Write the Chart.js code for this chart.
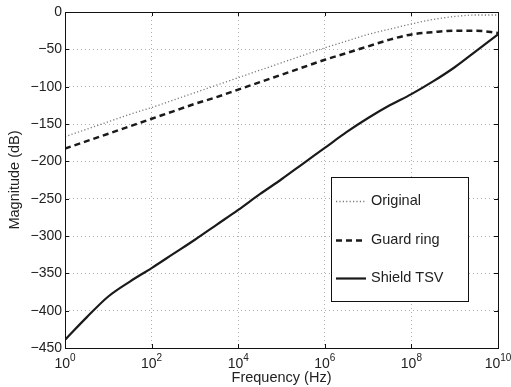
<!DOCTYPE html>
<html>
<head>
<meta charset="utf-8">
<script src="https://cdn.jsdelivr.net/npm/chart.js@4"></script>
<style>
  html, body { margin: 0; padding: 0; background: #fff; }
  #wrap { width: 511px; height: 387px; }
</style>
</head>
<body>
<div id="wrap"><canvas id="magnitude-chart" width="511" height="387"></canvas></div>
<script>
// frequency points, half a decade apart
var freqHz = [1e0, 3.16e0, 1e1, 3.16e1, 1e2, 3.16e2, 1e3, 3.16e3, 1e4, 3.16e4, 1e5,
  3.16e5, 1e6, 3.16e6, 1e7, 3.16e7, 1e8, 3.16e8, 1e9, 3.16e9, 1e10];
var original = [-167, -157, -147, -137, -128, -118, -108, -98, -88, -78, -68,
  -58, -48, -39, -30, -23, -16, -10, -6, -4, -4];
var guardRing = [-183, -173, -163, -153, -143, -133, -123, -114, -104, -94, -84,
  -74, -64, -55, -46, -37, -30, -27, -25, -25, -28];
var shieldTsv = [-439, -409, -381, -361, -343, -324, -305, -285, -265, -244, -224,
  -203, -182, -161, -142, -125, -110, -93, -74, -52, -30];
var xTickExp = [0, 2, 4, 6, 8, 10];
var yTicks = [0, -50, -100, -150, -200, -250, -300, -350, -400, -450];

var FONT = "'Liberation Sans', Arial, Helvetica, sans-serif";
Chart.defaults.font.family = FONT;
Chart.defaults.font.size = 14;
Chart.defaults.color = '#222';

function pts(arr) {
  return freqHz.map(function (f, i) { return { x: f, y: arr[i] }; });
}

// frame, inward ticks, x labels as 10^n and the boxed legend
var matlabLook = {
  id: 'matlabLook',
  afterDraw: function (chart) {
    var ctx = chart.ctx;
    var a = chart.chartArea;
    var xs = chart.scales.x, ys = chart.scales.y;
    ctx.save();
    ctx.strokeStyle = '#111';
    ctx.lineWidth = 1;
    ctx.setLineDash([]);
    ctx.strokeRect(a.left + 0.5, a.top + 0.5, a.right - a.left, a.bottom - a.top);
    ctx.beginPath();
    xTickExp.forEach(function (e) {
      var px = Math.round(xs.getPixelForValue(Math.pow(10, e))) + 0.5;
      ctx.moveTo(px, a.bottom); ctx.lineTo(px, a.bottom - 4);
      ctx.moveTo(px, a.top); ctx.lineTo(px, a.top + 4);
    });
    yTicks.forEach(function (v) {
      var py = Math.round(ys.getPixelForValue(v)) + 0.5;
      ctx.moveTo(a.left, py); ctx.lineTo(a.left + 4, py);
      ctx.moveTo(a.right, py); ctx.lineTo(a.right - 4, py);
    });
    ctx.stroke();

    // x tick labels
    ctx.fillStyle = '#222';
    ctx.textBaseline = 'alphabetic';
    xTickExp.forEach(function (e) {
      var px = xs.getPixelForValue(Math.pow(10, e));
      ctx.font = '14px ' + FONT;
      var wb = ctx.measureText('10').width;
      ctx.font = '10px ' + FONT;
      var we = ctx.measureText(String(e)).width;
      var x0 = px - (wb + we) / 2;
      ctx.font = '14px ' + FONT;
      ctx.textAlign = 'left';
      ctx.fillText('10', x0, a.bottom + 20);
      ctx.font = '10px ' + FONT;
      ctx.fillText(String(e), x0 + wb, a.bottom + 13);
    });

    // legend
    var lx = 331, ly = 177, lw = 137, lh = 124;
    ctx.fillStyle = '#fff';
    ctx.fillRect(lx, ly, lw, lh);
    ctx.strokeStyle = '#111';
    ctx.lineWidth = 1;
    ctx.strokeRect(lx + 0.5, ly + 0.5, lw, lh);
    var rows = [201, 240, 278];
    chart.data.datasets.forEach(function (ds, i) {
      var y = rows[i];
      ctx.strokeStyle = ds.borderColor;
      ctx.lineWidth = ds.borderWidth;
      ctx.setLineDash(ds.borderDash || []);
      ctx.beginPath();
      ctx.moveTo(336, y + 0.5); ctx.lineTo(366, y + 0.5);
      ctx.stroke();
      ctx.setLineDash([]);
      ctx.fillStyle = '#222';
      ctx.font = '14.5px ' + FONT;
      ctx.textAlign = 'left';
      ctx.textBaseline = 'middle';
      ctx.fillText(ds.label, 371, y);
    });
    ctx.restore();
  }
};

var ctx = document.getElementById('magnitude-chart').getContext('2d');
var chart = new Chart(ctx, {
  type: 'line',
  data: {
    datasets: [
      {
        label: 'Original',
        data: pts(original),
        borderColor: '#7a7a7a',
        borderWidth: 1.3,
        borderDash: [1.2, 2.2],
        pointRadius: 0,
        cubicInterpolationMode: 'monotone'
      },
      {
        label: 'Guard ring',
        data: pts(guardRing),
        borderColor: '#1a1a1a',
        borderWidth: 2.5,
        borderDash: [6, 4],
        pointRadius: 0,
        cubicInterpolationMode: 'monotone'
      },
      {
        label: 'Shield TSV',
        data: pts(shieldTsv),
        borderColor: '#1a1a1a',
        borderWidth: 2.2,
        pointRadius: 0,
        cubicInterpolationMode: 'monotone'
      }
    ]
  },
  options: {
    responsive: false,
    animation: false,
    layout: { padding: { top: 12, right: 13, left: 0, bottom: 0 } },
    plugins: {
      legend: { display: false },
      tooltip: { enabled: false }
    },
    scales: {
      x: {
        type: 'logarithmic',
        min: 1,
        max: 1e10,
        afterBuildTicks: function (scale) {
          scale.ticks = xTickExp.map(function (e) { return { value: Math.pow(10, e) }; });
        },
        afterFit: function (scale) { scale.height = 39; },
        ticks: { display: false },
        grid: { color: '#b0b0b0', lineWidth: 1, drawTicks: false },
        border: { display: false, dash: [1, 3] },
        title: {
          display: true,
          text: 'Frequency (Hz)',
          font: { size: 14.5 },
          padding: { top: 0, bottom: 0 }
        }
      },
      y: {
        min: -450,
        max: 0,
        afterBuildTicks: function (scale) {
          scale.ticks = yTicks.map(function (v) { return { value: v }; });
        },
        afterFit: function (scale) { scale.width = 65; },
        ticks: {
          padding: 3,
          font: { size: 14 },
          callback: function (v) { return String(v).replace('-', '\u2212'); }
        },
        grid: { color: '#b0b0b0', lineWidth: 1, drawTicks: false },
        border: { display: false, dash: [1, 3] },
        title: {
          display: true,
          text: 'Magnitude (dB)',
          font: { size: 14.5 },
          padding: { top: 6, bottom: 0 }
        }
      }
    }
  },
  plugins: [matlabLook]
});
</script>
</body>
</html>
